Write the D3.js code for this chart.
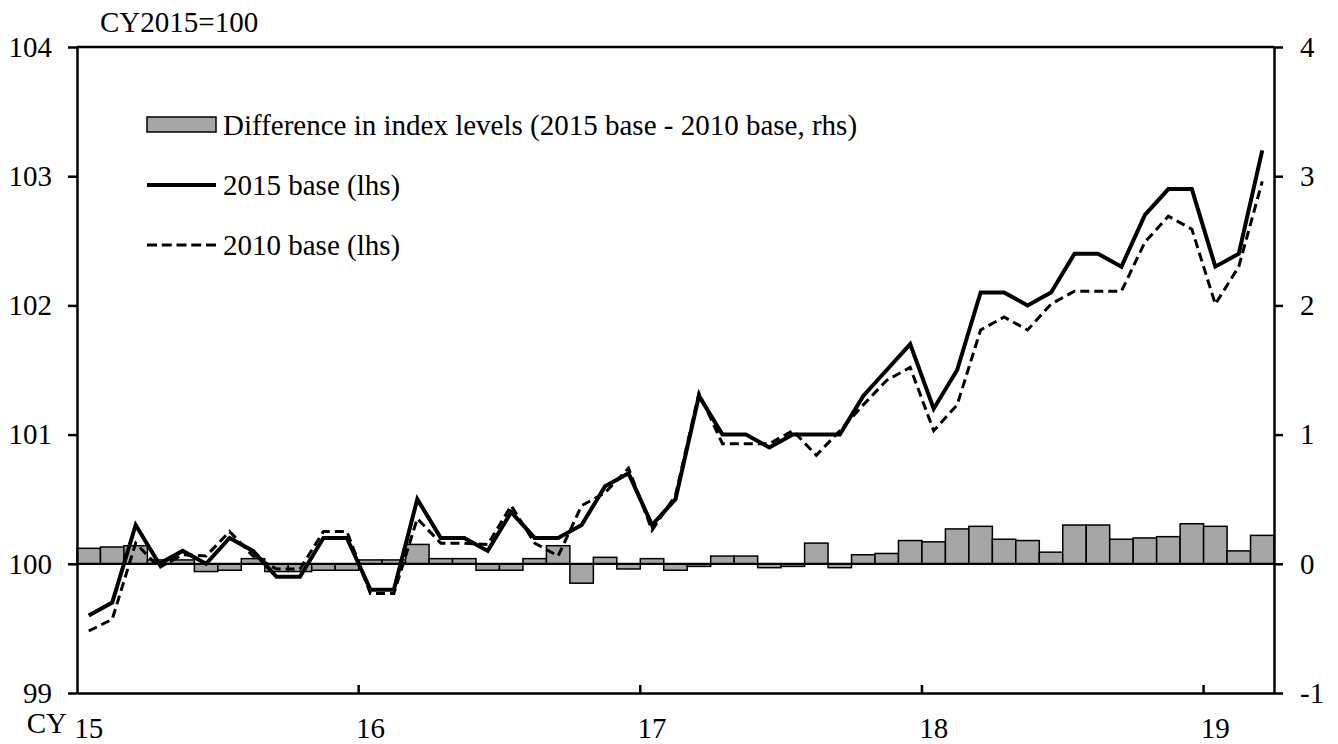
<!DOCTYPE html>
<html>
<head>
<meta charset="utf-8">
<script src="https://cdn.jsdelivr.net/npm/d3@7"></script>
<style>
  html, body { margin: 0; padding: 0; background: #fff; }
  svg { display: block; }
  text { font-family: "Liberation Serif", "Times New Roman", serif; fill: #000; }
</style>
</head>
<body>
<svg id="chart" width="1338" height="744"></svg>
<script>
// Months: CY2015 Jan .. CY2019 Mar
const months = d3.range(51).map(i => {
  const y = 2015 + Math.floor(i / 12), m = (i % 12) + 1;
  return y + "-" + String(m).padStart(2, "0");
});
const yearLabels = ["15", "16", "17", "18", "19"];
const leftTicks = [99, 100, 101, 102, 103, 104];
const rightTicks = [-1, 0, 1, 2, 3, 4];

// 2015 base (lhs)
const base2015 = [
  99.6, 99.7, 100.3, 100.0, 100.1, 100.0, 100.2, 100.1, 99.9, 99.9, 100.2, 100.2,
  99.8, 99.8, 100.5, 100.2, 100.2, 100.1, 100.4, 100.2, 100.2, 100.3, 100.6, 100.7,
  100.3, 100.5, 101.3, 101.0, 101.0, 100.9, 101.0, 101.0, 101.0, 101.3, 101.5, 101.7,
  101.2, 101.5, 102.1, 102.1, 102.0, 102.1, 102.4, 102.4, 102.3, 102.7, 102.9, 102.9,
  102.3, 102.4, 103.2
];
// 2010 base (lhs)
const base2010 = [
  99.48, 99.57, 100.16, 99.97, 100.07, 100.06, 100.25, 100.06, 99.96, 99.96, 100.25, 100.25,
  99.77, 99.77, 100.35, 100.16, 100.16, 100.15, 100.45, 100.16, 100.06, 100.45, 100.55, 100.74,
  100.26, 100.53, 101.32, 100.93, 100.93, 100.93, 101.03, 100.84, 101.03, 101.23, 101.42, 101.52,
  101.03, 101.23, 101.81, 101.91, 101.81, 102.01, 102.11, 102.11, 102.11, 102.49, 102.69, 102.59,
  102.01, 102.30, 102.96
];
// Difference in index levels (rhs)
const diff = [
  0.12, 0.13, 0.14, 0.03, 0.03, -0.06, -0.05, 0.04, -0.06, -0.06, -0.05, -0.05,
  0.03, 0.03, 0.15, 0.04, 0.04, -0.05, -0.05, 0.04, 0.14, -0.15, 0.05, -0.04,
  0.04, -0.05, -0.02, 0.06, 0.06, -0.03, -0.02, 0.16, -0.03, 0.07, 0.08, 0.18,
  0.17, 0.27, 0.29, 0.19, 0.18, 0.09, 0.30, 0.30, 0.19, 0.20, 0.21, 0.31,
  0.29, 0.10, 0.22
];
const legendLabels = [
  "Difference in index levels (2015 base - 2010 base, rhs)",
  "2015 base (lhs)",
  "2010 base (lhs)"
];

const L = 77, R = 1274, T = 47, B = 693;
const FS = 29;
const svg = d3.select("#chart");

const x = d3.scaleBand().domain(months).range([L, R]).padding(0);
const yL = d3.scaleLinear().domain([99, 104]).range([B, T]);
const yR = d3.scaleLinear().domain([-1, 4]).range([B, T]);

// Bars
svg.append("g").selectAll("rect").data(diff).join("rect")
  .attr("x", (d, i) => x(months[i]))
  .attr("width", x.bandwidth())
  .attr("y", d => Math.min(yR(d), yR(0)))
  .attr("height", d => Math.abs(yR(d) - yR(0)))
  .attr("fill", "#a6a6a6")
  .attr("stroke", "#000")
  .attr("stroke-width", 1.5);

// zero line
svg.append("line")
  .attr("x1", L).attr("x2", R)
  .attr("y1", yR(0)).attr("y2", yR(0))
  .attr("stroke", "#000").attr("stroke-width", 2.2);

// Lines
const cx = i => x(months[i]) + x.bandwidth() / 2;
const lineL = d3.line().x((d, i) => cx(i)).y(d => yL(d));
svg.append("path").datum(base2015)
  .attr("d", lineL).attr("fill", "none")
  .attr("stroke", "#000").attr("stroke-width", 4).attr("stroke-linejoin", "miter");
svg.append("path").datum(base2010)
  .attr("d", lineL).attr("fill", "none")
  .attr("stroke", "#000").attr("stroke-width", 3).attr("stroke-dasharray", "9,5");

// Left axis
const fmt = d => String(d);
const axL = svg.append("g").attr("transform", `translate(${L},0)`)
  .call(d3.axisLeft(yL).tickValues(leftTicks).tickFormat(fmt)
    .tickSize(9).tickSizeOuter(0).tickPadding(16));
// Right axis
const axR = svg.append("g").attr("transform", `translate(${R},0)`)
  .call(d3.axisRight(yR).tickValues(rightTicks).tickFormat(fmt)
    .tickSize(9).tickSizeOuter(0).tickPadding(17));
[axL, axR].forEach(g => {
  g.selectAll("path.domain").attr("stroke", "#000").attr("stroke-width", 2.5);
  g.selectAll(".tick line").attr("stroke", "#000").attr("stroke-width", 2.5);
  g.selectAll("text").attr("font-size", FS).attr("font-family", "Liberation Serif");
});

// top frame
svg.append("line").attr("x1", L).attr("x2", R).attr("y1", T).attr("y2", T)
  .attr("stroke", "#000").attr("stroke-width", 2.5);

// Bottom axis: labels at January band centres
const janIdx = [0, 12, 24, 36, 48];
const axB = svg.append("g").attr("transform", `translate(0,${B})`)
  .call(d3.axisBottom(x).tickValues(janIdx.map(i => months[i]))
    .tickFormat((d, k) => yearLabels[k]).tickSize(0).tickSizeOuter(0).tickPadding(24));
axB.selectAll("path.domain").attr("stroke", "#000").attr("stroke-width", 2.5);
axB.selectAll("text").attr("font-size", FS).attr("font-family", "Liberation Serif");
// year boundary ticks (inward)
svg.append("g").selectAll("line").data(janIdx.slice(1)).join("line")
  .attr("x1", i => x(months[i])).attr("x2", i => x(months[i]))
  .attr("y1", B).attr("y2", B - 8)
  .attr("stroke", "#000").attr("stroke-width", 2.5);

// CY label & unit
svg.append("text").attr("x", 67).attr("y", 733).attr("text-anchor", "end")
  .attr("font-size", FS).text("CY");
svg.append("text").attr("x", 100).attr("y", 32)
  .attr("font-size", FS).text("CY2015=100");

// Legend
const lg = svg.append("g");
lg.append("rect").attr("x", 147).attr("y", 117).attr("width", 69).attr("height", 15)
  .attr("fill", "#a6a6a6").attr("stroke", "#000").attr("stroke-width", 1.5);
lg.append("line").attr("x1", 147).attr("x2", 216).attr("y1", 185).attr("y2", 185)
  .attr("stroke", "#000").attr("stroke-width", 4);
lg.append("line").attr("x1", 147).attr("x2", 216).attr("y1", 245).attr("y2", 245)
  .attr("stroke", "#000").attr("stroke-width", 3).attr("stroke-dasharray", "10,4.75");
legendLabels.forEach((t, k) => {
  lg.append("text").attr("x", 223).attr("y", 125 + 60 * k).attr("dy", "0.35em")
    .attr("font-size", FS).text(t);
});
</script>
</body>
</html>
